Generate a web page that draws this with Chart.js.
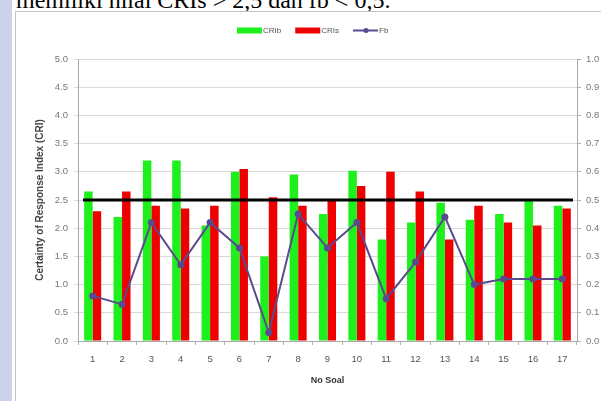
<!DOCTYPE html>
<html>
<head>
<meta charset="utf-8">
<script src="https://cdn.jsdelivr.net/npm/chart.js@4.4.1/dist/chart.umd.min.js"></script>
<style>
  html, body { margin: 0; padding: 0; background: #fff; }
  body { width: 601px; height: 401px; position: relative; overflow: hidden; }
  #band { position: absolute; left: 0; top: 0; width: 12px; height: 401px; background: #cdd1ea; }
  #caption { position: absolute; left: 16px; top: -12px; font: 24px/24px "Liberation Serif", serif; color: #000; white-space: nowrap; }
  #box { position: absolute; left: 15px; top: 11px; width: 600px; height: 400px; border: 1px solid #c4c4c4; background: #fff; }
  #wrap { position: absolute; left: 0; top: 0; width: 601px; height: 401px; }
</style>
</head>
<body>
<div id="band"></div>
<div id="caption">memiliki nilai CRIs &gt; 2,5 dan fb &lt; 0,5.</div>
<div id="box"></div>
<div id="wrap"><canvas id="criChart" width="601" height="401"></canvas></div>
<script>
  /* data */
  const soal = ['1', '2', '3', '4', '5', '6', '7', '8', '9', '10', '11', '12', '13', '14', '15', '16', '17'];
  const crib = [2.65, 2.2, 3.2, 3.2, 2.05, 3.0, 1.5, 2.95, 2.25, 3.02, 1.8, 2.1, 2.45, 2.15, 2.25, 2.5, 2.4];
  const cris = [2.3, 2.65, 2.4, 2.35, 2.4, 3.05, 2.55, 2.4, 2.5, 2.75, 3.0, 2.65, 1.8, 2.4, 2.1, 2.05, 2.35];
  const fb = [0.16, 0.13, 0.42, 0.27, 0.42, 0.33, 0.03, 0.45, 0.33, 0.42, 0.15, 0.28, 0.44, 0.2, 0.22, 0.22, 0.22];
  const criThreshold = 2.5;

  const FONT = '"Liberation Sans", Arial, sans-serif';

  // thick black reference line at CRI = 2.5
  const thresholdLine = {
    id: 'thresholdLine',
    afterDatasetsDraw(chart) {
      const { ctx, chartArea, scales } = chart;
      const y = scales.y.getPixelForValue(criThreshold);
      ctx.save();
      ctx.strokeStyle = '#000';
      ctx.lineWidth = 3;
      ctx.beginPath();
      ctx.moveTo(chartArea.left + 5, y);
      ctx.lineTo(chartArea.right - 4, y);
      ctx.stroke();
      ctx.restore();
    }
  };

  // small legend above the plot, like the Excel one
  const miniLegend = {
    id: 'miniLegend',
    afterDraw(chart) {
      const c = chart.ctx;
      let x = 237;
      const y = 30.5;
      c.save();
      c.font = '8px ' + FONT;
      c.textBaseline = 'middle';
      chart.data.datasets.forEach(ds => {
        if (ds.type === 'line') {
          c.strokeStyle = ds.borderColor; c.lineWidth = 2;
          c.beginPath(); c.moveTo(x, y); c.lineTo(x + 25, y); c.stroke();
          c.fillStyle = ds.borderColor;
          c.beginPath(); c.arc(x + 13, y, 2.5, 0, Math.PI * 2); c.fill();
          x += 26;
        } else {
          c.fillStyle = ds.backgroundColor;
          c.fillRect(x, y - 3, 25, 6);
          x += 26;
        }
        c.fillStyle = '#555';
        c.fillText(ds.label, x, y);
        x += c.measureText(ds.label).width + 14;
      });
      c.restore();
    }
  };

  new Chart(document.getElementById('criChart'), {
    type: 'bar',
    data: {
      labels: soal,
      datasets: [
        { label: 'CRIb', data: crib, backgroundColor: '#1df01d', order: 2, categoryPercentage: 0.58, barPercentage: 1.0 },
        { label: 'CRIs', data: cris, backgroundColor: '#ee0000', order: 2, categoryPercentage: 0.58, barPercentage: 1.0 },
        {
          type: 'line', label: 'Fb', data: fb, yAxisID: 'y1', order: 1,
          borderColor: '#5b4a8e', backgroundColor: '#5b4a8e', borderWidth: 2,
          pointRadius: 2.5, pointHoverRadius: 2.5, tension: 0
        }
      ]
    },
    options: {
      responsive: false, animation: false, devicePixelRatio: 1,
      layout: { padding: { top: 59, left: 0, right: 0, bottom: 0 } },
      plugins: { legend: { display: false }, tooltip: { enabled: false } },
      scales: {
        x: {
          grid: { offset: true, drawOnChartArea: false, drawTicks: true, tickLength: 4, color: '#b0b0b0' },
          border: { color: '#a8a8a8' },
          ticks: { color: '#555', font: { size: 9.5, family: FONT }, padding: 9, maxRotation: 0 },
          title: { display: true, text: 'No Soal', color: '#333', font: { size: 9, weight: 'bold', family: FONT }, padding: { top: 15, bottom: 15 } },
          afterFit: s => { s.height = 60; }
        },
        y: {
          position: 'left', min: 0, max: 5,
          grid: { color: '#d9d9d9', tickLength: 4 },
          border: { color: '#a8a8a8' },
          ticks: { stepSize: 0.5, color: '#777', font: { size: 9.5, family: FONT }, padding: 6, callback: v => v.toFixed(1) },
          title: { display: true, text: 'Certainty of Response Index (CRI)', color: '#444', font: { size: 10, weight: 'bold', family: FONT }, padding: { top: 34, bottom: 0 } },
          afterFit: s => { s.width = 78; }
        },
        y1: {
          position: 'right', min: 0, max: 1,
          grid: { drawOnChartArea: false, tickLength: 4, color: '#b0b0b0' },
          border: { color: '#a8a8a8' },
          ticks: { stepSize: 0.1, color: '#777', font: { size: 9.5, family: FONT }, padding: 5, callback: v => v.toFixed(1) },
          afterFit: s => { s.width = 24; }
        }
      }
    },
    plugins: [thresholdLine, miniLegend]
  });
</script>
</body>
</html>
